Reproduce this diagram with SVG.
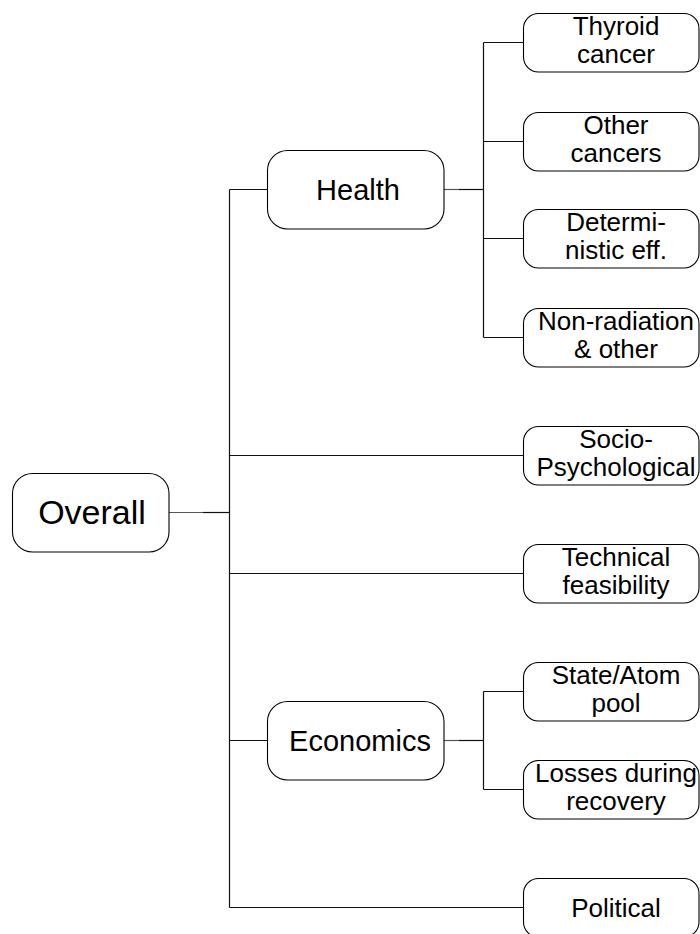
<svg xmlns="http://www.w3.org/2000/svg" width="700" height="934" viewBox="0 0 700 934">
<style>
.box{fill:#fff;stroke:#000;stroke-width:1.1}
.t{font-family:"Liberation Sans",Arial,sans-serif;fill:#000;text-anchor:middle}
.leaf{font-size:26px}
.mid{font-size:29px}
.root{font-size:34px}
.ln{stroke:#111;stroke-width:1.2;fill:none}
.lt{stroke:#555;stroke-width:1.2;fill:none}
</style>
<rect width="700" height="934" fill="#fff"/>
<g id="connectors">
<line class="lt" x1="169" y1="512.5" x2="203" y2="512.5"/>
<line class="ln" x1="203" y1="512.5" x2="229.5" y2="512.5"/>
<line class="ln" x1="229.5" y1="189.5" x2="229.5" y2="907.5"/>
<line class="ln" x1="229.5" y1="189.5" x2="267" y2="189.5"/>
<line class="ln" x1="229.5" y1="455.5" x2="523" y2="455.5"/>
<line class="ln" x1="229.5" y1="573.5" x2="523" y2="573.5"/>
<line class="ln" x1="229.5" y1="740.5" x2="267" y2="740.5"/>
<line class="ln" x1="229.5" y1="907.5" x2="523" y2="907.5"/>
<line class="lt" x1="444" y1="189.5" x2="459" y2="189.5"/>
<line class="ln" x1="459" y1="189.5" x2="483.5" y2="189.5"/>
<line class="ln" x1="483.5" y1="42.5" x2="483.5" y2="337.5"/>
<line class="ln" x1="483.5" y1="42.5" x2="523" y2="42.5"/>
<line class="ln" x1="483.5" y1="141.5" x2="523" y2="141.5"/>
<line class="ln" x1="483.5" y1="238.5" x2="523" y2="238.5"/>
<line class="ln" x1="483.5" y1="337.5" x2="523" y2="337.5"/>
<line class="lt" x1="444" y1="740.5" x2="459" y2="740.5"/>
<line class="ln" x1="459" y1="740.5" x2="483.5" y2="740.5"/>
<line class="ln" x1="483.5" y1="691.5" x2="483.5" y2="789.5"/>
<line class="ln" x1="483.5" y1="691.5" x2="523" y2="691.5"/>
<line class="ln" x1="483.5" y1="789.5" x2="523" y2="789.5"/>
</g>
<g id="overall"><rect class="box" x="12.5" y="473.5" width="156.5" height="78.5" rx="20"/><text class="t root" x="92" y="524">Overall</text></g>
<g id="health"><rect class="box" x="267.5" y="150.5" width="176.5" height="78.5" rx="20"/><text class="t mid" x="358" y="200">Health</text></g>
<g id="economics"><rect class="box" x="267.5" y="701.5" width="176.5" height="78.5" rx="20"/><text class="t mid" x="360" y="751">Economics</text></g>
<g id="thyroid"><rect class="box" x="523.5" y="13.5" width="175.5" height="58.5" rx="15"/><text class="t leaf" x="616" y="35">Thyroid</text><text class="t leaf" x="616" y="63">cancer</text></g>
<g id="other-cancers"><rect class="box" x="523.5" y="112.5" width="175.5" height="58.5" rx="15"/><text class="t leaf" x="616" y="134">Other</text><text class="t leaf" x="616" y="162">cancers</text></g>
<g id="deterministic"><rect class="box" x="523.5" y="209.5" width="175.5" height="58.5" rx="15"/><text class="t leaf" x="616" y="231">Determi-</text><text class="t leaf" x="616" y="259">nistic eff.</text></g>
<g id="non-radiation"><rect class="box" x="523.5" y="308.5" width="175.5" height="58.5" rx="15"/><text class="t leaf" x="616" y="330">Non-radiation</text><text class="t leaf" x="616" y="358">&amp; other</text></g>
<g id="socio"><rect class="box" x="523.5" y="426.5" width="175.5" height="58.5" rx="15"/><text class="t leaf" x="616" y="448">Socio-</text><text class="t leaf" x="616" y="476">Psychological</text></g>
<g id="technical"><rect class="box" x="523.5" y="544.5" width="175.5" height="58.5" rx="15"/><text class="t leaf" x="616" y="566">Technical</text><text class="t leaf" x="616" y="594">feasibility</text></g>
<g id="state-atom"><rect class="box" x="523.5" y="662.5" width="175.5" height="58.5" rx="15"/><text class="t leaf" x="616" y="684">State/Atom</text><text class="t leaf" x="616" y="712">pool</text></g>
<g id="losses"><rect class="box" x="523.5" y="760.5" width="175.5" height="58.5" rx="15"/><text class="t leaf" x="616" y="782">Losses during</text><text class="t leaf" x="616" y="810">recovery</text></g>
<g id="political"><rect class="box" x="523.5" y="878.5" width="175.5" height="58.5" rx="15"/><text class="t leaf" x="616" y="917">Political</text></g>
</svg>
